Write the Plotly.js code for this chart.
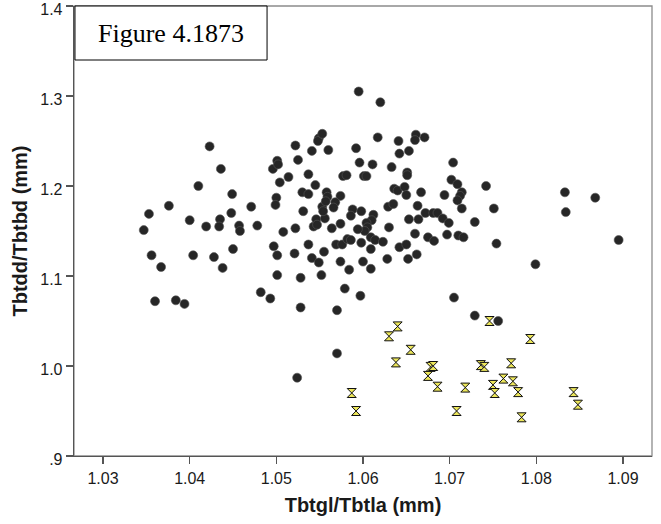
<!DOCTYPE html>
<html>
<head>
<meta charset="utf-8">
<script src="https://cdn.plot.ly/plotly-3.0.1.min.js"></script>
<style>html,body{margin:0;padding:0;background:#fff;}#chart{width:661px;height:524px;}</style>
</head>
<body>
<div id="chart"></div>
<script>
// Group 1 (filled dots)
const dotX = [
1.0347,1.0353,1.0356,1.0360,1.0367,1.0376,1.0384,1.0394,1.0400,1.0404,
1.0410,1.0419,1.0423,1.0428,1.0435,1.0434,1.0436,1.0438,1.0448,1.0449,
1.0450,1.0457,1.0458,1.0471,1.0478,1.0482,1.0493,1.0496,1.0501,1.0502,
1.0504,1.0500,1.0499,1.0508,1.0514,1.0522,1.0525,1.0537,1.0522,1.0530,
1.0537,1.0545,1.0531,1.0537,1.0543,1.0546,1.0541,1.0549,1.0548,1.0553,
1.0560,1.0556,1.0553,1.0554,1.0558,1.0559,1.0557,1.0497,1.0501,1.0501,
1.0521,1.0528,1.0528,1.0524,1.0541,1.0549,1.0552,1.0555,1.0547,1.0564,
1.0595,1.0620,1.0617,1.0592,1.0596,1.0611,1.0577,1.0581,1.0601,1.0604,
1.0574,1.0568,1.0566,1.0588,1.0598,1.0586,1.0612,1.0610,1.0604,1.0605,
1.0602,1.0594,1.0574,1.0569,1.0576,1.0582,1.0586,1.0598,1.0609,1.0614,
1.0623,1.0609,1.0574,1.0584,1.0600,1.0609,1.0579,1.0597,1.0570,1.0570,
1.0630,1.0641,1.0661,1.0660,1.0671,1.0653,1.0642,1.0704,1.0633,1.0651,
1.0651,1.0702,1.0709,1.0742,1.0636,1.0640,1.0648,1.0650,1.0667,1.0694,
1.0714,1.0712,1.0709,1.0629,1.0635,1.0663,1.0714,1.0751,1.0672,1.0681,
1.0686,1.0692,1.0699,1.0653,1.0664,1.0729,1.0660,1.0675,1.0682,1.0697,
1.0710,1.0716,1.0754,1.0642,1.0650,1.0628,1.0652,1.0662,1.0705,1.0729,
1.0756,1.0833,1.0868,1.0834,1.0895,1.0799
];
const dotY = [
1.151,1.169,1.123,1.072,1.110,1.178,1.073,1.069,1.162,1.123,
1.200,1.155,1.244,1.121,1.163,1.155,1.219,1.109,1.170,1.191,
1.130,1.156,1.150,1.177,1.156,1.082,1.075,1.219,1.228,1.224,
1.204,1.187,1.179,1.149,1.210,1.245,1.229,1.213,1.153,1.193,
1.191,1.201,1.172,1.135,1.155,1.163,1.239,1.253,1.250,1.258,
1.240,1.164,1.177,1.172,1.193,1.188,1.183,1.133,1.123,1.101,
1.125,1.098,1.065,0.987,1.120,1.115,1.101,1.127,1.157,1.153,
1.305,1.293,1.254,1.242,1.226,1.224,1.211,1.212,1.211,1.211,
1.189,1.182,1.176,1.174,1.172,1.167,1.168,1.162,1.159,1.154,
1.150,1.152,1.158,1.135,1.135,1.141,1.140,1.137,1.143,1.140,
1.138,1.130,1.116,1.107,1.116,1.108,1.086,1.078,1.062,1.014,
1.154,1.250,1.257,1.251,1.254,1.239,1.236,1.226,1.221,1.215,
1.212,1.207,1.202,1.200,1.197,1.195,1.199,1.190,1.193,1.190,
1.193,1.189,1.184,1.177,1.180,1.178,1.175,1.175,1.170,1.170,
1.170,1.164,1.159,1.163,1.163,1.160,1.147,1.143,1.139,1.146,
1.145,1.143,1.136,1.132,1.135,1.119,1.119,1.124,1.076,1.056,
1.050,1.193,1.187,1.171,1.140,1.113
];
// Group 2 (hourglass markers)
const hgX = [
1.0640,1.0630,1.0746,1.0793,1.0655,1.0638,1.0678,1.0681,1.0675,1.0736,
1.0740,1.0771,1.0686,1.0718,1.0762,1.0750,1.0752,1.0773,1.0779,1.0587,
1.0592,1.0708,1.0783,1.0843,1.0848
];
const hgY = [
1.044,1.033,1.050,1.030,1.018,1.004,0.999,1.000,0.989,1.001,
0.999,1.003,0.977,0.976,0.986,0.979,0.970,0.983,0.971,0.970,
0.950,0.950,0.943,0.971,0.957
];
const xTickVals = [1.03,1.04,1.05,1.06,1.07,1.08,1.09];
const xTickText = ["1.03","1.04","1.05","1.06","1.07","1.08","1.09"];
const yTickVals = [0.9,1.0,1.1,1.2,1.3,1.4];
const yTickText = [".9","1.0","1.1","1.2","1.3","1.4"];
const chartTitle = "Figure 4.1873";
const xTitle = "Tbtgl/Tbtla (mm)";
const yTitle = "Tbtdd/Tbtbd (mm)";

const traces = [
  {x: dotX, y: dotY, type: 'scatter', mode: 'markers',
   marker: {symbol: 'circle', size: 9, color: '#262626', line: {color: '#555555', width: 0.6}},
   hoverinfo: 'skip', showlegend: false},
  {x: hgX, y: hgY, type: 'scatter', mode: 'markers',
   marker: {symbol: 'hourglass', size: 9, color: '#ece65a', line: {color: '#111111', width: 1}},
   hoverinfo: 'skip', showlegend: false}
];

const axisFont = {family: 'Liberation Sans, Arial, sans-serif', size: 16, color: '#1a1a1a'};
const titleFont = {family: 'Liberation Sans, Arial, sans-serif', size: 20, color: '#1a1a1a', weight: 'bold'};

const layout = {
  width: 661, height: 524,
  margin: {l: 74, r: 9, t: 6, b: 68, pad: 0},
  paper_bgcolor: '#ffffff', plot_bgcolor: '#ffffff',
  showlegend: false,
  xaxis: {
    range: [1.02665, 1.09335], showgrid: false, zeroline: false,
    showline: true, linecolor: '#555555', linewidth: 1.3,
    ticks: 'outside', ticklen: 7, tickwidth: 1.3, tickcolor: '#555555',
    tickvals: xTickVals, ticktext: xTickText, tickfont: axisFont,
    ticklabeloverflow: 'allow',
    title: {text: xTitle, font: titleFont, standoff: 12},
    automargin: false, fixedrange: true
  },
  yaxis: {
    range: [0.9, 1.4], showgrid: false, zeroline: false,
    showline: true, linecolor: '#555555', linewidth: 1.3,
    ticks: 'outside', ticklen: 7, tickwidth: 1.3, tickcolor: '#555555',
    tickvals: yTickVals, ticktext: yTickText, tickfont: axisFont,
    ticklabeloverflow: 'allow', ticklabelshift: 3,
    title: {text: yTitle, font: titleFont, standoff: 7},
    automargin: false, fixedrange: true
  },
  shapes: [
    {type: 'rect', xref: 'paper', yref: 'paper', x0: 0, x1: 1, y0: 0, y1: 1,
     line: {color: '#8c8c8c', width: 1.3}, fillcolor: 'rgba(0,0,0,0)', layer: 'below'},
    {type: 'rect', xref: 'paper', yref: 'paper', x0: 0.0017, x1: 0.334, y0: 0.88, y1: 1.0,
     line: {color: '#000000', width: 1}, fillcolor: '#ffffff', layer: 'above'}
  ],
  annotations: [
    {text: chartTitle, xref: 'paper', yref: 'paper', x: 0.168, y: 0.94,
     xanchor: 'center', yanchor: 'middle', showarrow: false,
     font: {family: 'Liberation Serif, Times New Roman, serif', size: 26, color: '#000000'}}
  ]
};

Plotly.newPlot('chart', traces, layout, {staticPlot: true, displayModeBar: false});
</script>
</body>
</html>
